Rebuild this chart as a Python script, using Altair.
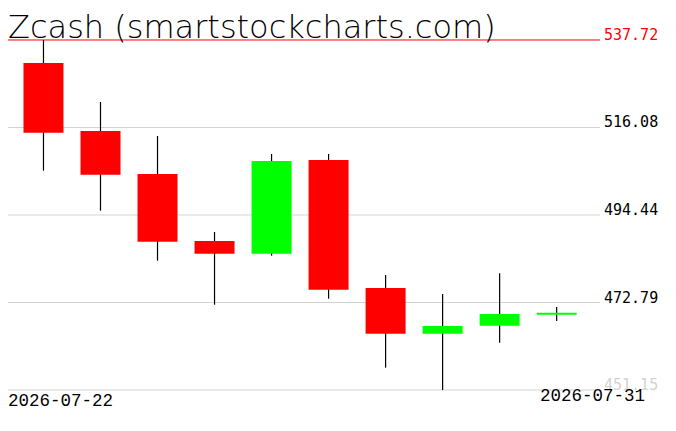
import altair as alt
import pandas as pd

title_text = "Zcash (smartstockcharts.com)"
dates = ["2026-07-22", "2026-07-23", "2026-07-24", "2026-07-25", "2026-07-26",
         "2026-07-27", "2026-07-28", "2026-07-29", "2026-07-30", "2026-07-31"]
open_ = [532.03, 515.21, 504.58, 488.00, 484.86, 508.04, 476.38, 465.08, 467.05, 469.77]
high = [537.72, 522.38, 513.98, 490.23, 509.52, 509.52, 479.59, 474.90, 480.02, 471.68]
low = [505.39, 495.50, 483.13, 472.25, 484.37, 473.73, 456.67, 451.15, 462.85, 468.22]
close = [514.79, 504.40, 487.83, 484.86, 507.79, 475.96, 465.08, 466.98, 469.95, 470.27]
price_ticks = [537.72, 516.08, 494.44, 472.79, 451.15]
tick_kind = ["max", "mid", "mid", "mid", "min"]

df = pd.DataFrame({
    "idx": list(range(len(dates))),
    "date": dates,
    "open": open_,
    "high": high,
    "low": low,
    "close": close,
})
ticks_df = pd.DataFrame({"p": price_ticks, "kind": tick_kind})

W, H = 592, 410
xscale = alt.Scale(domain=[-31 / 58, (W - 31) / 58], nice=False, zero=False)
yscale = alt.Scale(domain=[444.224, 545.635], nice=False, zero=False)

line_color = alt.Color("kind:N", scale=alt.Scale(domain=["max", "mid", "min"],
                                                  range=["#ff0000", "#d3d3d3", "#d3d3d3"]),
                       legend=None)
label_color = alt.Color("kind:N", scale=alt.Scale(domain=["max", "mid", "min"],
                                                   range=["#ff0000", "#000000", "#d3d3d3"]),
                        legend=None)

grid = alt.Chart(ticks_df).mark_rule(strokeWidth=1).encode(
    y=alt.Y("p:Q", scale=yscale, axis=None),
    x=alt.value(0), x2=alt.value(W),
    color=line_color,
)

labels = alt.Chart(ticks_df).mark_text(
    align="left", baseline="alphabetic", font="DejaVu Sans Mono", fontSize=15
).encode(
    y=alt.Y("p:Q", scale=yscale, axis=None),
    x=alt.value(W + 4),
    text=alt.Text("p:Q", format=".2f"),
    color=label_color,
)

base = alt.Chart(df)

wicks = base.mark_rule(color="black", strokeWidth=1.2).encode(
    x=alt.X("idx:Q", scale=xscale, axis=None),
    y=alt.Y("low:Q", scale=yscale, axis=None),
    y2="high:Q",
)

bodies = base.mark_bar(size=40).encode(
    x=alt.X("idx:Q", scale=xscale, axis=None),
    y=alt.Y("open:Q", scale=yscale, axis=None),
    y2="close:Q",
    color=alt.condition("datum.close >= datum.open", alt.value("#00ff00"), alt.value("#ff0000")),
)

title = alt.Chart(pd.DataFrame({"t": [title_text]})).mark_text(
    align="left", baseline="alphabetic", font="DejaVu Sans", fontSize=32,
    fontWeight=200, color="black"
).encode(text="t:N", x=alt.value(0), y=alt.value(30))

d_first = alt.Chart(pd.DataFrame({"t": [dates[0]]})).mark_text(
    align="left", baseline="alphabetic", font="Liberation Mono", fontSize=17.5, color="black"
).encode(text="t:N", x=alt.value(0), y=alt.value(398))

d_last = alt.Chart(pd.DataFrame({"t": [dates[-1]]})).mark_text(
    align="right", baseline="alphabetic", font="Liberation Mono", fontSize=17.5, color="black"
).encode(text="t:N", x=alt.value(637), y=alt.value(393))

chart = alt.layer(grid, labels, wicks, bodies, title, d_first, d_last).resolve_scale(
    color="independent"
).properties(
    width=W, height=H,
    autosize=alt.AutoSizeParams(type="none"),
    padding={"left": 0, "top": 0, "right": 68, "bottom": 0},
    background="white",
).configure_view(stroke=None)

chart.save("out.html", embed_options={"renderer": "svg", "actions": False})
